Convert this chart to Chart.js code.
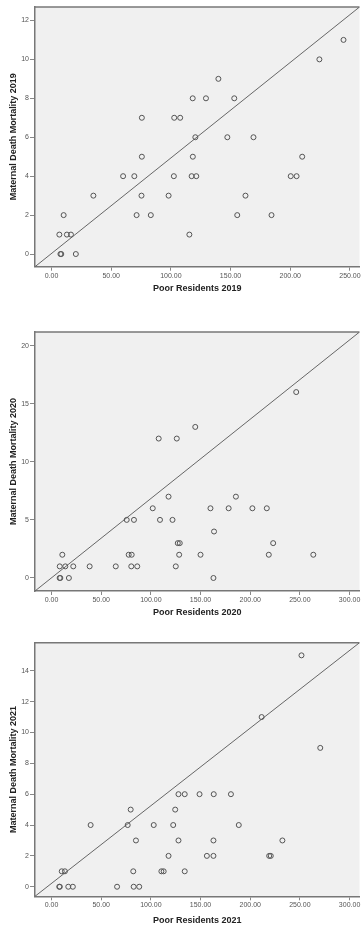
<!DOCTYPE html>
<html>
<head>
<meta charset="utf-8">
<script src="https://cdn.jsdelivr.net/npm/chart.js@4.4.1/dist/chart.umd.min.js"></script>
<style>
  html, body { margin: 0; padding: 0; background: #fff; }
  body { width: 363px; height: 926px; position: relative; overflow: hidden; }
  .box { position: absolute; left: 0; width: 363px; }
</style>
</head>
<body>
<div class="box" style="top:0;height:300px"><canvas id="c2019"></canvas></div>
<div class="box" style="top:305px;height:315px"><canvas id="c2020"></canvas></div>
<div class="box" style="top:620px;height:306px"><canvas id="c2021"></canvas></div>
<script>
// values
const poor2019 = [244.6, 224.4, 139.8, 118.3, 129.4, 153.1, 75.7, 102.8, 107.8, 120.5, 147.3, 169.2, 75.7, 118.4, 210, 60, 69.4, 102.5, 117.4, 121.3, 200.4, 205.3, 35.1, 75.4, 98.1, 162.5, 10.2, 71.3, 83.2, 155.6, 184.3, 6.6, 12.9, 16.3, 115.5, 7.5, 8.2, 20.4];
const mdm2019 = [11, 10, 9, 8, 8, 8, 7, 7, 7, 6, 6, 6, 5, 5, 5, 4, 4, 4, 4, 4, 4, 4, 3, 3, 3, 3, 2, 2, 2, 2, 2, 1, 1, 1, 1, 0, 0, 0];

const poor2020 = [246.3, 144.7, 107.9, 126.1, 117.8, 185.6, 101.9, 160, 178.3, 202.2, 216.7, 75.7, 83, 109.2, 121.8, 163.6, 127.1, 129.1, 223.1, 10.9, 77.7, 80.7, 128.5, 150, 218.7, 263.5, 8.3, 13.9, 21.9, 38.4, 64.7, 80.3, 86.3, 125.1, 8.2, 8.9, 17.5, 163];
const mdm2020 = [16, 13, 12, 12, 7, 7, 6, 6, 6, 6, 6, 5, 5, 5, 5, 4, 3, 3, 3, 2, 2, 2, 2, 2, 2, 2, 1, 1, 1, 1, 1, 1, 1, 1, 0, 0, 0, 0];

const poor2021 = [251.6, 211.5, 270.5, 127.8, 134.1, 149, 163.3, 180.6, 79.7, 124.5, 39.4, 76.7, 102.9, 122.5, 188.5, 85, 127.8, 163, 232.4, 117.8, 156.4, 163, 219.1, 220.7, 10.3, 13.5, 82.3, 110.6, 112.9, 134.1, 7.8, 8.4, 16.9, 21.5, 66, 82.7, 88.3];
const mdm2021 = [15, 11, 9, 6, 6, 6, 6, 6, 5, 5, 4, 4, 4, 4, 4, 3, 3, 3, 3, 2, 2, 2, 2, 2, 1, 1, 1, 1, 1, 1, 0, 0, 0, 0, 0, 0, 0];

// axis ranges
const xRange2019 = [-13.8, 258];
const yRange2019 = [-0.65, 12.69];
const xRange2020 = [-16.6, 310];
const yRange2020 = [-1.12, 21.17];
const xRange2021 = [-16.6, 310];
const yRange2021 = [-0.62, 15.82];

const FONT = "'Liberation Sans', Arial, sans-serif";

// grey plot background + top border
const plotBg = {
    id: 'plotBg',
    beforeDraw(chart) {
        const a = chart.chartArea;
        const ctx = chart.ctx;
        ctx.save();
        ctx.fillStyle = '#f0f0f0';
        ctx.fillRect(a.left, a.top, a.right - a.left, a.bottom - a.top);
        ctx.strokeStyle = '#777';
        ctx.lineWidth = 1.5;
        ctx.beginPath();
        ctx.moveTo(a.left, a.top);
        ctx.lineTo(a.right, a.top);
        ctx.stroke();
        ctx.restore();
    }
};

function makeChart(id, xs, ys, xRange, yRange, yStep, year, cfg) {
    const points = xs.map((x, i) => ({ x: x, y: ys[i] }));
    // corner-to-corner reference line
    const diag = [{ x: xRange[0], y: yRange[0] }, { x: xRange[1], y: yRange[1] }];

    new Chart(document.getElementById(id), {
        type: 'scatter',
        data: {
            datasets: [{
                data: points,
                pointRadius: 2.5,
                pointHoverRadius: 2.5,
                pointBorderWidth: 1,
                pointBorderColor: '#555',
                pointBackgroundColor: 'rgba(0,0,0,0)'
            }, {
                type: 'line',
                data: diag,
                borderColor: '#666',
                borderWidth: 1,
                pointRadius: 0,
                fill: false
            }]
        },
        options: {
            responsive: true,
            maintainAspectRatio: false,
            animation: false,
            events: [],
            layout: { padding: { top: cfg.top, right: 0, left: 0, bottom: 0 } },
            plugins: { legend: { display: false }, tooltip: { enabled: false } },
            scales: {
                x: {
                    type: 'linear',
                    min: xRange[0],
                    max: xRange[1],
                    afterFit(scale) {
                        scale.height = cfg.xh;
                        scale.paddingLeft = 0;
                        scale.paddingRight = 0;
                    },
                    border: { color: '#777', width: 1.5 },
                    grid: { drawOnChartArea: false, drawTicks: true, tickLength: 4, color: '#888' },
                    ticks: {
                        stepSize: 50,
                        includeBounds: false,
                        maxRotation: 0,
                        autoSkip: false,
                        padding: 1,
                        color: '#555',
                        font: { family: FONT, size: 7 },
                        callback: v => Number(v).toFixed(2)
                    },
                    title: {
                        display: true,
                        text: 'Poor Residents ' + year,
                        color: '#222',
                        padding: { top: 0, bottom: cfg.tpad },
                        font: { family: FONT, size: 9, weight: 'bold' }
                    }
                },
                y: {
                    min: yRange[0],
                    max: yRange[1],
                    afterFit(scale) {
                        scale.width = 35;
                        scale.paddingTop = 0;
                        scale.paddingBottom = 0;
                    },
                    border: { color: '#777', width: 1.5 },
                    grid: { drawOnChartArea: false, drawTicks: true, tickLength: 5, color: '#888' },
                    ticks: {
                        stepSize: yStep,
                        includeBounds: false,
                        autoSkip: false,
                        padding: 1,
                        color: '#555',
                        font: { family: FONT, size: 7 }
                    },
                    title: {
                        display: true,
                        text: 'Maternal Death Mortality ' + year,
                        color: '#222',
                        padding: { top: 8.6, bottom: 0 },
                        font: { family: FONT, size: 9, weight: 'bold' }
                    }
                }
            }
        },
        plugins: [plotBg]
    });
}

makeChart('c2019', poor2019, mdm2019, xRange2019, yRange2019, 2, 2019, { top: 7, xh: 33.3, tpad: 6 });
makeChart('c2020', poor2020, mdm2020, xRange2020, yRange2020, 5, 2020, { top: 27, xh: 29, tpad: 1.6 });
makeChart('c2021', poor2021, mdm2021, xRange2021, yRange2021, 2, 2021, { top: 22.7, xh: 29.7, tpad: 0 });
</script>
</body>
</html>
